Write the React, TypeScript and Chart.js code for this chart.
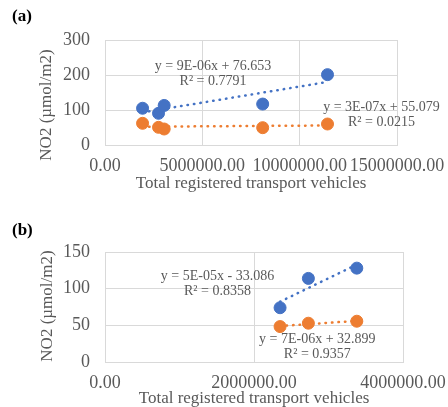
import React, { useEffect, useRef } from 'react';
import { Chart, registerables } from 'chart.js';
Chart.register(...registerables);

// ---- data (a) ----
const vehiclesA = [1930000, 2750000, 3040000, 8100000, 11430000];
const blueA = [105, 90.5, 113, 117, 201];
const orangeA = [62, 50.5, 45.7, 49.5, 60];
const xTicksA = { min: 0, max: 15000000, step: 5000000 };
const yTicksA = { min: 0, max: 300, step: 100 };
const eqBlueA = ['y = 9E-06x + 76.653', 'R² = 0.7791'];
const eqOrangeA = ['y = 3E-07x + 55.079', 'R² = 0.0215'];

// ---- data (b) ----
const vehiclesB = [2350000, 2730000, 3380000];
const blueB = [74, 114, 128];
const orangeB = [48.3, 52.9, 55.6];
const xTicksB = { min: 0, max: 4000000, step: 2000000 };
const yTicksB = { min: 0, max: 150, step: 50 };
const eqBlueB = ['y = 5E-05x - 33.086', 'R² = 0.8358'];
const eqOrangeB = ['y = 7E-06x + 32.899', 'R² = 0.9357'];

const X_TITLE = 'Total registered transport vehicles';
const Y_TITLE = 'NO2 (µmol/m2)';

const BLUE = '#4472C4';
const ORANGE = '#ED7D31';
const GRID = '#d9d9d9';
const TEXT = '#595959';
const FONT = '"Liberation Serif", "Times New Roman", serif';

function trend(xs: number[], ys: number[]) {
  const n = xs.length;
  const mx = xs.reduce((a, b) => a + b, 0) / n;
  const my = ys.reduce((a, b) => a + b, 0) / n;
  let sxy = 0, sxx = 0;
  for (let i = 0; i < n; i++) {
    sxy += (xs[i] - mx) * (ys[i] - my);
    sxx += (xs[i] - mx) * (xs[i] - mx);
  }
  const m = sxy / sxx;
  const b = my - m * mx;
  const x0 = Math.min(...xs), x1 = Math.max(...xs);
  return [{ x: x0, y: m * x0 + b }, { x: x1, y: m * x1 + b }];
}

const textPlugin = {
  id: 'textLabels',
  afterDatasetsDraw(chart: any, _args: any, opts: any) {
    const { ctx } = chart;
    const xs = chart.scales.x, ys = chart.scales.y;
    ctx.save();
    ctx.fillStyle = TEXT;
    ctx.textAlign = 'center';
    ctx.textBaseline = 'middle';
    ctx.font = `14px ${FONT}`;
    for (const lab of opts.labels || []) {
      const px = xs.getPixelForValue(lab.x);
      const py = ys.getPixelForValue(lab.y);
      lab.lines.forEach((t: string, i: number) => ctx.fillText(t, px, py + i * 15));
    }
    if (opts.yTitle) {
      ctx.font = `17px ${FONT}`;
      ctx.translate(opts.yTitle.cx, opts.yTitle.cy);
      ctx.rotate(-Math.PI / 2);
      ctx.fillText(opts.yTitle.text, 0, 0);
    }
    ctx.restore();
  },
};

function makeConfig(p: any) {
  return {
    type: 'scatter',
    data: {
      datasets: [
        { data: p.xs.map((x: number, i: number) => ({ x, y: p.blue[i] })), backgroundColor: BLUE, borderColor: BLUE, pointRadius: 6, pointHoverRadius: 6 },
        { data: p.xs.map((x: number, i: number) => ({ x, y: p.orange[i] })), backgroundColor: ORANGE, borderColor: ORANGE, pointRadius: 6, pointHoverRadius: 6 },
        { type: 'line', data: trend(p.xs, p.blue), borderColor: BLUE, borderWidth: 2.5, borderDash: [0.5, 6], borderCapStyle: 'round', pointRadius: 0, fill: false },
        { type: 'line', data: trend(p.xs, p.orange), borderColor: ORANGE, borderWidth: 2.5, borderDash: [0.5, 6], borderCapStyle: 'round', pointRadius: 0, fill: false },
      ],
    },
    options: {
      responsive: false,
      animation: false,
      events: [],
      layout: { padding: { top: p.padTop, right: p.padRight, left: 0, bottom: 0 } },
      plugins: {
        legend: { display: false },
        tooltip: { enabled: false },
        textLabels: { labels: p.labels, yTitle: p.yTitle },
      },
      scales: {
        x: {
          type: 'linear',
          min: p.xT.min, max: p.xT.max,
          afterFit: (s: any) => { s.height = p.xHeight; s.paddingRight = 0; s.paddingLeft = 0; },
          ticks: { stepSize: p.xT.step, color: TEXT, font: { family: FONT, size: 18 }, padding: 10, maxRotation: 0, minRotation: 0, autoSkip: false, callback: (v: any) => Number(v).toFixed(2) },
          grid: { color: GRID, drawTicks: false, lineWidth: 1 },
          border: { color: GRID },
          title: { display: true, text: X_TITLE, color: TEXT, font: { family: FONT, size: 17 }, padding: { top: 0, bottom: p.xTitlePad } },
        },
        y: {
          type: 'linear',
          min: p.yT.min, max: p.yT.max,
          afterFit: (s: any) => { s.width = 105; },
          ticks: { stepSize: p.yT.step, color: TEXT, font: { family: FONT, size: 18 }, padding: 15 },
          grid: { color: GRID, drawTicks: false, lineWidth: 1 },
          border: { color: GRID },
        },
      },
    },
    plugins: [textPlugin],
  };
}

function ChartCanvas({ cfg, w, h }: any) {
  const ref = useRef<HTMLCanvasElement>(null);
  useEffect(() => {
    const c = new Chart(ref.current as HTMLCanvasElement, cfg as any);
    return () => c.destroy();
  }, []);
  return <canvas ref={ref} width={w} height={h} style={{ display: 'block', width: w, height: h }} />;
}

const cfgA = makeConfig({
  xs: vehiclesA, blue: blueA, orange: orangeA, xT: xTicksA, yT: yTicksA,
  padTop: 40, padRight: 51, xHeight: 55, xTitlePad: 6,
  labels: [
    { x: 5550000, y: 225.7, lines: eqBlueA },
    { x: 14200000, y: 108.6, lines: eqOrangeA },
  ],
  yTitle: { text: Y_TITLE, cx: 47, cy: 105 },
});

const cfgB = makeConfig({
  xs: vehiclesB, blue: blueB, orange: orangeB, xT: xTicksB, yT: yTicksB,
  padTop: 52, padRight: 45, xHeight: 45, xTitlePad: -1.5,
  labels: [
    { x: 1510000, y: 117, lines: eqBlueB },
    { x: 2850000, y: 31.2, lines: eqOrangeB },
  ],
  yTitle: { text: Y_TITLE, cx: 47.5, cy: 106 },
});

export default function App() {
  const lab: React.CSSProperties = { position: 'absolute', left: 12, fontFamily: FONT, fontWeight: 'bold', fontSize: 17, color: '#000', lineHeight: '20px' };
  return (
    <div style={{ position: 'absolute', left: 0, top: 0, width: 448, height: 407, overflow: 'hidden', background: '#fff' }}>
      <div style={{ position: 'absolute', left: 0, top: 0 }}>
        <ChartCanvas cfg={cfgA} w={448} h={200} />
      </div>
      <div style={{ position: 'absolute', left: 0, top: 200 }}>
        <ChartCanvas cfg={cfgB} w={448} h={207} />
      </div>
      <div style={{ ...lab, top: 6 }}>(a)</div>
      <div style={{ ...lab, top: 220 }}>(b)</div>
    </div>
  );
}
